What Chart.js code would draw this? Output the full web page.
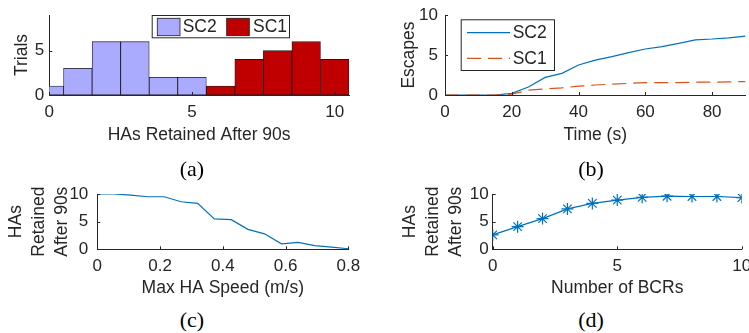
<!DOCTYPE html>
<html>
<head>
<meta charset="utf-8">
<script src="https://cdn.jsdelivr.net/npm/chart.js@4.4.1/dist/chart.umd.min.js"></script>
<style>
html, body { margin: 0; padding: 0; background: #fff; overflow: hidden; width: 749px; height: 333px; }
canvas { position: absolute; }
.cap { position: absolute; width: 40px; text-align: center; font: 22px/22px "Liberation Serif", "Times New Roman", serif; color: #000; }
</style>
</head>
<body>
<canvas id="chartA" width="375" height="150" style="left:0;top:0"></canvas>
<canvas id="chartB" width="374" height="150" style="left:375px;top:0"></canvas>
<canvas id="chartC" width="375" height="135" style="left:0;top:170px"></canvas>
<canvas id="chartD" width="374" height="135" style="left:375px;top:170px"></canvas>
<div class="cap" style="left:172px;top:157.5px">(a)</div>
<div class="cap" style="left:571px;top:157.5px">(b)</div>
<div class="cap" style="left:172px;top:308.5px">(c)</div>
<div class="cap" style="left:571px;top:308.5px">(d)</div>
<script>
// ── data ──────────────────────────────────────────────────────────────────────
const sc2Bins = [0, 1, 2, 3, 4, 5];
const sc2Trials = [1, 3, 6, 6, 2, 2];
const sc1Bins = [6, 7, 8, 9, 10];
const sc1Trials = [1, 4, 5, 6, 4];

const timeS = [0, 5, 10, 15, 20, 25, 30, 35, 40, 45, 50, 55, 60, 65, 70, 75, 80, 85, 90];
const sc2Escapes = [0, 0, 0, 0, 0.2, 1.0, 2.2, 2.7, 3.75, 4.35, 4.8, 5.3, 5.75, 6.05, 6.45, 6.9, 7.0, 7.15, 7.35];
const sc1Escapes = [0, 0, 0, 0, 0.1, 0.6, 0.75, 0.9, 1.1, 1.25, 1.35, 1.45, 1.55, 1.55, 1.55, 1.6, 1.6, 1.65, 1.67];

const maxSpeed = [0, 0.053, 0.107, 0.16, 0.213, 0.267, 0.32, 0.373, 0.427, 0.48, 0.533, 0.587, 0.64, 0.693, 0.747, 0.8];
const retainedBySpeed = [10, 10, 9.8, 9.5, 9.5, 8.6, 8.3, 5.5, 5.35, 3.6, 2.8, 1.0, 1.25, 0.65, 0.4, 0.1];

const numBCRs = [0, 1, 2, 3, 4, 5, 6, 7, 8, 9, 10];
const retainedByBCRs = [2.6, 4.1, 5.55, 7.3, 8.3, 8.9, 9.4, 9.6, 9.55, 9.55, 9.35];

const xTicksA = [0, 5, 10];
const yTicksA = [0, 5];
const xTicksB = [0, 20, 40, 60, 80];
const xTicksC = [0, 0.2, 0.4, 0.6, 0.8];
const xTicksD = [0, 5, 10];
const yTicks10 = [0, 5, 10];

// ── style ─────────────────────────────────────────────────────────────────────
const ink = '#262626';
const blue = '#0072BD';
const orange = '#D95319';
const sans = '"Liberation Sans", Arial, Helvetica, sans-serif';
Chart.defaults.font.family = sans;
Chart.defaults.font.size = 17;
Chart.defaults.color = ink;

// inward tick marks, matlab style
const axisTicks = {
    id: 'axisTicks',
    afterDraw(chart) {
        const { ctx, chartArea: a, scales } = chart;
        ctx.save();
        ctx.strokeStyle = ink;
        ctx.lineWidth = 1;
        Object.values(scales).forEach(s => {
            s.ticks.forEach(t => {
                const p = Math.round(s.getPixelForValue(t.value)) + 0.5;
                ctx.beginPath();
                if (s.isHorizontal()) { ctx.moveTo(p, a.bottom); ctx.lineTo(p, a.bottom - 3); }
                else { ctx.moveTo(a.left, p); ctx.lineTo(a.left + 3, p); }
                ctx.stroke();
            });
        });
        ctx.restore();
    }
};

// boxed legend drawn inside the axes
const boxLegend = {
    id: 'boxLegend',
    afterDraw(chart, args, opts) {
        if (!opts.box) return;
        const ctx = chart.ctx, b = opts.box;
        ctx.save();
        ctx.fillStyle = '#fff';
        ctx.fillRect(b.l, b.t, b.r - b.l, b.b - b.t);
        ctx.strokeStyle = ink;
        ctx.lineWidth = 1;
        ctx.strokeRect(b.l + 0.5, b.t + 0.5, b.r - b.l - 1, b.b - b.t - 1);
        chart.data.datasets.forEach((ds, i) => {
            const e = opts.entries[i];
            if (opts.kind === 'patch') {
                ctx.fillStyle = ds.backgroundColor;
                ctx.fillRect(e.sx, e.sy - e.sh / 2, e.sw, e.sh);
                ctx.strokeStyle = '#1a1a1a';
                ctx.lineWidth = 0.8;
                ctx.strokeRect(e.sx, e.sy - e.sh / 2, e.sw, e.sh);
            } else {
                ctx.strokeStyle = ds.borderColor;
                ctx.lineWidth = ds.borderWidth;
                ctx.setLineDash(ds.borderDash || []);
                ctx.beginPath();
                ctx.moveTo(e.sx, e.sy);
                ctx.lineTo(e.sx + e.sw, e.sy);
                ctx.stroke();
                ctx.setLineDash([]);
            }
            ctx.fillStyle = ink;
            ctx.font = '17.5px ' + sans;
            ctx.textBaseline = 'middle';
            ctx.fillText(ds.label, e.tx, e.sy + 0.5);
        });
        ctx.restore();
    }
};

// fixed plot box so each panel lands where the reference puts it
function frame(size, area, x, y) {
    return {
        responsive: false,
        animation: false,
        layout: { padding: { left: 0, top: area.top, right: size.w - area.right, bottom: 0 } },
        plugins: { legend: { display: false }, tooltip: { enabled: false } },
        scales: {
            x: {
                type: 'linear', min: x.min, max: x.max, offset: false,
                grid: { display: false, drawTicks: false },
                border: { color: ink, width: 1 },
                ticks: { padding: 7, callback: v => String(v) },
                title: { display: true, text: x.title, font: { size: 17.5 }, padding: { top: 0, bottom: x.titlePad } },
                afterBuildTicks: s => { s.ticks = x.ticks.map(v => ({ value: v })); },
                afterFit: s => { s.height = size.h - area.bottom; s.paddingLeft = 0; s.paddingRight = 0; }
            },
            y: {
                type: 'linear', min: y.min, max: y.max,
                grid: { display: false, drawTicks: false },
                border: { color: ink, width: 1 },
                ticks: { padding: y.tickPad, callback: v => String(v) },
                title: { display: true, text: y.title, font: { size: 17.5, lineHeight: y.lineHeight || 1.2 }, padding: { top: y.titlePad, bottom: 0 } },
                afterBuildTicks: s => { s.ticks = y.ticks.map(v => ({ value: v })); },
                afterFit: s => { s.width = area.left; s.paddingTop = 0; s.paddingBottom = 0; }
            }
        }
    };
}

const pts = (xs, ys) => xs.map((v, i) => ({ x: v, y: ys[i] }));

// ── (a) histogram ─────────────────────────────────────────────────────────────
const optA = frame({ w: 375, h: 150 }, { left: 49.3, top: 15, right: 349, bottom: 95 },
    { min: 0, max: 10.5, ticks: xTicksA, title: 'HAs Retained After 90s', titlePad: 4.5 },
    { min: 0, max: 9, ticks: yTicksA, title: 'Trials', titlePad: 12, tickPad: 5 });
optA.plugins.boxLegend = {
    kind: 'patch',
    box: { l: 151.7, t: 15, r: 290, b: 38.3 },
    entries: [
        { sx: 157.3, sy: 27, sw: 22.7, sh: 17.4, tx: 182.7 },
        { sx: 226.7, sy: 27, sw: 22.6, sh: 17.4, tx: 253 }
    ]
};
new Chart(document.getElementById('chartA'), {
    type: 'bar',
    data: {
        datasets: [
            { label: 'SC2', data: pts(sc2Bins, sc2Trials), backgroundColor: '#aaaaff', borderColor: '#1a1a1a',
              borderWidth: 0.8, borderSkipped: false, grouped: false, barPercentage: 1, categoryPercentage: 1 },
            { label: 'SC1', data: pts(sc1Bins, sc1Trials), backgroundColor: '#c00000', borderColor: '#1a1a1a',
              borderWidth: 0.8, borderSkipped: false, grouped: false, barPercentage: 1, categoryPercentage: 1 }
        ]
    },
    options: optA,
    plugins: [axisTicks, boxLegend]
});

// ── (b) escapes over time ─────────────────────────────────────────────────────
const optB = frame({ w: 374, h: 150 }, { left: 70, top: 15, right: 370.5, bottom: 95 },
    { min: 0, max: 90, ticks: xTicksB, title: 'Time (s)', titlePad: 4.5 },
    { min: 0, max: 10, ticks: yTicks10, title: 'Escapes', titlePad: 24, tickPad: 7 });
optB.plugins.boxLegend = {
    kind: 'line',
    box: { l: 85.7, t: 19.3, r: 180, b: 71 },
    entries: [
        { sx: 92, sy: 32.7, sw: 43, tx: 137.7 },
        { sx: 92, sy: 58.3, sw: 43, tx: 137.7 }
    ]
};
new Chart(document.getElementById('chartB'), {
    type: 'line',
    data: {
        datasets: [
            { label: 'SC2', data: pts(timeS, sc2Escapes), borderColor: blue, borderWidth: 1.2, pointRadius: 0, tension: 0, order: 1 },
            { label: 'SC1', data: pts(timeS, sc1Escapes), borderColor: orange, borderWidth: 1.2, borderDash: [14, 7], pointRadius: 0, tension: 0, order: 0 }
        ]
    },
    options: optB,
    plugins: [axisTicks, boxLegend]
});

// ── (c) retained vs max speed ─────────────────────────────────────────────────
new Chart(document.getElementById('chartC'), {
    type: 'line',
    data: {
        datasets: [
            { label: 'Retained', data: pts(maxSpeed, retainedBySpeed), borderColor: blue, borderWidth: 1.2, pointRadius: 0, tension: 0 }
        ]
    },
    options: frame({ w: 375, h: 135 }, { left: 97.3, top: 24, right: 348.3, bottom: 79.3 },
        { min: 0, max: 0.8, ticks: xTicksC, title: 'Max HA Speed (m/s)', titlePad: 6 },
        { min: 0, max: 10, ticks: yTicks10, title: ['HAs', 'Retained', 'After 90s'], titlePad: 4.5, tickPad: 9, lineHeight: 1.314 }),
    plugins: [axisTicks]
});

// ── (d) retained vs number of BCRs ────────────────────────────────────────────
new Chart(document.getElementById('chartD'), {
    type: 'line',
    data: {
        datasets: [
            { label: 'Retained', data: pts(numBCRs, retainedByBCRs), borderColor: blue, borderWidth: 1.2, tension: 0,
              pointStyle: 'star', pointRadius: 6, pointBorderColor: blue, pointBorderWidth: 1.2, pointBackgroundColor: blue }
        ]
    },
    options: frame({ w: 374, h: 135 }, { left: 117.7, top: 24, right: 369, bottom: 79.3 },
        { min: 0, max: 10, ticks: xTicksD, title: 'Number of BCRs', titlePad: 6 },
        { min: 0, max: 10, ticks: yTicks10, title: ['HAs', 'Retained', 'After 90s'], titlePad: 24, tickPad: 4, lineHeight: 1.314 }),
    plugins: [axisTicks]
});
</script>
</body>
</html>
